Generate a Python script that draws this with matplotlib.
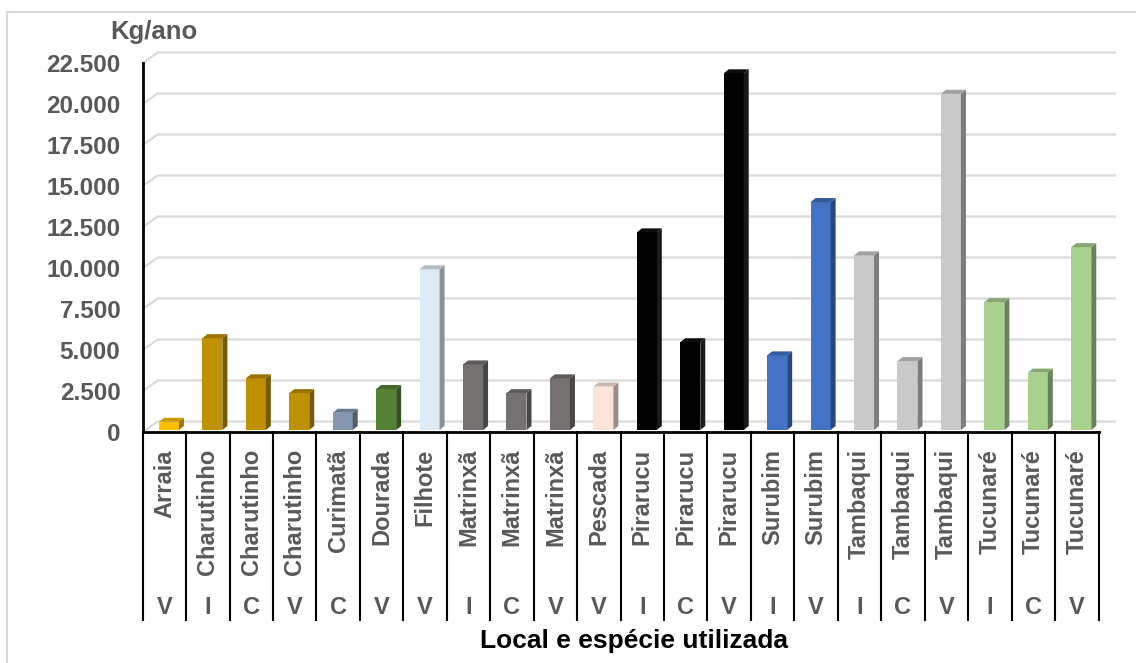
import matplotlib.pyplot as plt
from matplotlib.patches import Polygon, Rectangle
from matplotlib.colors import to_rgb

plt.rcParams['font.family'] = ['Liberation Sans', 'DejaVu Sans']

# Dados: espécie, local e produção (kg/ano)
especies = ["Arraia", "Charutinho", "Charutinho", "Charutinho", "Curimatã", "Dourada",
            "Filhote", "Matrinxã", "Matrinxã", "Matrinxã", "Pescada", "Pirarucu",
            "Pirarucu", "Pirarucu", "Surubim", "Surubim", "Tambaqui", "Tambaqui",
            "Tambaqui", "Tucunaré", "Tucunaré", "Tucunaré"]
locais = ["V", "I", "C", "V", "C", "V", "V", "I", "C", "V", "V", "I",
          "C", "V", "I", "V", "I", "C", "V", "I", "C", "V"]
producao = [500, 5600, 3150, 2250, 1050, 2500, 9800, 4000, 2250, 3150, 2650, 12050,
            5350, 21750, 4550, 13900, 10650, 4200, 20500, 7800, 3500, 11150]
cores_especie = {"Arraia": "#FFC000", "Charutinho": "#BF9000", "Curimatã": "#8497B0",
                 "Dourada": "#548235", "Filhote": "#DDEBF7", "Matrinxã": "#767171",
                 "Pescada": "#FCE4D6", "Pirarucu": "#000000", "Surubim": "#4472C4",
                 "Tambaqui": "#C9C9C9", "Tucunaré": "#A9D18E"}
yticks = list(range(0, 22501, 2500))

W, H = 1136, 663
fig = plt.figure(figsize=(W / 100, H / 100), dpi=100)

# área do gráfico em pixels
x0_px, x1_px = 142.7, 1098.5
y0_px, ytop_px = 432, 63
n = len(especies)
ax = fig.add_axes([x0_px / W, (H - y0_px) / H, (x1_px - x0_px) / W, (y0_px - ytop_px) / H])
ax.set_xlim(0, n)
ax.set_ylim(0, 22500)
for s in ax.spines.values():
    s.set_visible(False)
ax.set_xticks([])
ax.set_yticks(yticks)
ax.set_yticklabels([f"{v:,.0f}".replace(",", ".") for v in yticks],
                   fontsize=17.5, fontweight='bold', color='#595959')
ax.tick_params(axis='y', length=0, pad=16)
for lbl in ax.get_yticklabels():
    lbl.set_y(lbl.get_position()[1])

px_x = (x1_px - x0_px) / n          # pixels por categoria
px_y = (y0_px - ytop_px) / 22500    # pixels por kg


def ux(p):
    return p / px_x


def uy(p):
    return p / px_y


# parede do fundo (efeito 3D)
bx, by = ux(15), uy(10.5)
x_fim = ux(1115 - x0_px)
for t in yticks:
    ax.plot([0, bx, x_fim], [t, t + by, t + by], color='#D9D9D9', lw=1.6,
            clip_on=False, zorder=1)

# barras 3D
off = ux(4.5)
larg = ux(20)
dx, dy = ux(5), uy(4)
base = uy(2)


def escurece(c, f):
    r, g, b = to_rgb(c)
    return (r * f, g * f, b * f)


for i, (esp, v) in enumerate(zip(especies, producao)):
    cor = cores_especie[esp]
    xl = i + 0.5 + off - larg / 2
    xr = xl + larg
    topo = base + v
    frente = Rectangle((xl, base), larg, v, facecolor=cor, edgecolor='none',
                       clip_on=False, zorder=3)
    lado = Polygon([(xr, base), (xr + dx, base + dy), (xr + dx, topo + dy), (xr, topo)],
                   closed=True, facecolor=escurece(cor, 0.62) if esp != "Pirarucu" else '#1a1a1a',
                   edgecolor='none', clip_on=False, zorder=3)
    tampa = Polygon([(xl, topo), (xr, topo), (xr + dx, topo + dy), (xl + dx, topo + dy)],
                    closed=True, facecolor=escurece(cor, 0.8) if esp != "Pirarucu" else '#0d0d0d',
                    edgecolor='none', clip_on=False, zorder=3)
    ax.add_patch(frente)
    ax.add_patch(lado)
    ax.add_patch(tampa)

# eixos
ax.plot([0, 0], [0, 22500], color='black', lw=2, clip_on=False, zorder=4)
ax.plot([0, n], [0, 0], color='black', lw=2, clip_on=False, zorder=4)

# rótulos de categoria em dois níveis
y_div = -uy(620 - y0_px)
for i in range(n + 1):
    ax.plot([i, i], [0, y_div], color='black', lw=1.5, clip_on=False, zorder=4)

for i, (esp, loc) in enumerate(zip(especies, locais)):
    ax.text(i + 0.5, -uy(449 - y0_px), esp, rotation=90, ha='center', va='top',
            fontsize=17, fontweight='bold', color='#595959', clip_on=False)
    ax.text(i + 0.5, -uy(607 - y0_px), loc, ha='center', va='center',
            fontsize=17, fontweight='bold', color='#595959', clip_on=False)

fig.text(110 / W, 1 - 32 / H, "Kg/ano", ha='left', va='center',
         fontsize=18.5, fontweight='bold', color='#595959')
fig.text(634 / W, 1 - 641 / H, "Local e espécie utilizada", ha='center', va='center',
         fontsize=19, fontweight='bold', color='black')

# moldura externa
fig.patches.append(Rectangle((7 / W, -0.1), 1.2, 1 - 12 / H + 0.1, transform=fig.transFigure,
                             facecolor='none', edgecolor='#D9D9D9', lw=1.5))

plt.savefig("out.png", dpi=100)
